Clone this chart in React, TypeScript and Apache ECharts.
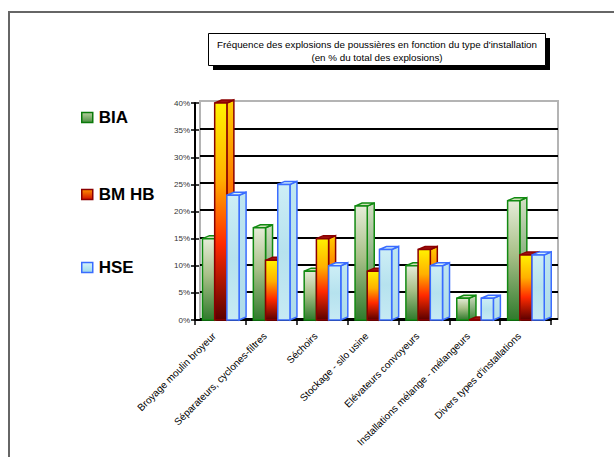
import React, { useEffect, useRef } from "react";
import * as echarts from "echarts";

const categories = [
  "Broyage moulin broyeur",
  "Séparateurs, cyclones-filtres",
  "Séchoirs",
  "Stockage - silo usine",
  "Elévateurs convoyeurs",
  "Installations mélange - mélangeurs",
  "Divers types d'installations",
];
const seriesNames = ["BIA", "BM HB", "HSE"];
const biaValues = [15, 17, 9, 21, 10, 4, 22];
const bmhbValues = [40, 11, 15, 9, 13, 0, 12];
const hseValues = [23, 25, 10, 13, 10, 4, 12];
const titleLines = [
  "Fréquence des explosions de poussières en fonction du type d'installation",
  "(en % du total des explosions)",
];
const yMin = 0;
const yMax = 40;
const yStep = 5;

const FONT = "'Liberation Sans', Arial, sans-serif";

const vgrad = (stops: [number, string][]) => ({
  type: "linear",
  x: 0,
  y: 0,
  x2: 0,
  y2: 1,
  colorStops: stops.map(([offset, color]) => ({ offset, color })),
});

const styles = [
  {
    front: vgrad([
      [0, "#e6ecd8"],
      [0.45, "#a8c088"],
      [1, "#2f7a2c"],
    ]),
    side: vgrad([
      [0, "#d4dec4"],
      [1, "#3a8236"],
    ]),
    top: "#cfe0b8",
    border: "#118a11",
  },
  {
    front: vgrad([
      [0, "#fff200"],
      [0.35, "#ffb000"],
      [0.65, "#ff2a00"],
      [1, "#5a0000"],
    ]),
    side: vgrad([
      [0, "#ffd000"],
      [0.5, "#ff6000"],
      [1, "#700000"],
    ]),
    top: "#a01010",
    border: "#8a0000",
  },
  {
    front: vgrad([
      [0, "#cdeef6"],
      [0.5, "#b6e2ee"],
      [1, "#c6eaf4"],
    ]),
    side: vgrad([
      [0, "#bfe6f0"],
      [1, "#aedbe8"],
    ]),
    top: "#d6f2f8",
    border: "#3a6cff",
  },
];

const legendIcon = [
  { color: vgrad([[0, "#b8d0a0"], [1, "#4a9040"]]), borderColor: "#0a7a0a" },
  { color: vgrad([[0, "#ff9000"], [1, "#d01000"]]), borderColor: "#8a0000" },
  { color: vgrad([[0, "#d8f4fa"], [1, "#9cd8ea"]]), borderColor: "#3a6cff" },
];

function make3D(sIdx: number) {
  const st = styles[sIdx];
  return (params: any, api: any) => {
    const i = api.value(0);
    const v = api.value(1);
    const base = api.coord([i, 0]);
    const topP = api.coord([i, v]);
    const bw = api.size([1, 0])[0];
    const w = bw * 0.24;
    const x0 = base[0] - bw / 2 + bw * 0.147 + sIdx * w;
    const dx = 7;
    const dy = 3;
    const yT = topP[1];
    const yB = base[1];
    return {
      type: "group",
      children: [
        {
          type: "polygon",
          shape: {
            points: [
              [x0 + w, yT],
              [x0 + w + dx, yT - dy],
              [x0 + w + dx, yB - dy],
              [x0 + w, yB],
            ],
          },
          style: { fill: st.side, stroke: st.border, lineWidth: 1.5 },
        },
        {
          type: "polygon",
          shape: {
            points: [
              [x0, yT],
              [x0 + dx, yT - dy],
              [x0 + w + dx, yT - dy],
              [x0 + w, yT],
            ],
          },
          style: { fill: st.top, stroke: st.border, lineWidth: 1.5 },
        },
        {
          type: "rect",
          shape: { x: x0, y: yT, width: w, height: Math.max(0, yB - yT) },
          style: { fill: st.front, stroke: st.border, lineWidth: 1.5 },
        },
      ],
    };
  };
}

export default function App() {
  const ref = useRef<HTMLDivElement>(null);
  useEffect(() => {
    if (!ref.current) return;
    document.body.style.margin = "0";
    document.body.style.overflow = "hidden";
    const chart = echarts.init(ref.current, null, { renderer: "svg" });
    const allValues = [biaValues, bmhbValues, hseValues];
    const legendTops = [109, 186, 259];
    const option: any = {
      animation: false,
      backgroundColor: "#ffffff",
      textStyle: { fontFamily: FONT },
      legend: seriesNames.map((name, k) => ({
        orient: "vertical",
        left: 81,
        top: legendTops[k],
        padding: 0,
        itemWidth: 11,
        itemHeight: 10,
        itemGap: 6,
        selectedMode: false,
        textStyle: {
          fontFamily: FONT,
          fontSize: 17,
          fontWeight: "bold",
          color: "#000",
          padding: [0, 0, 0, 1],
        },
        data: [
          {
            name,
            icon: "rect",
            itemStyle: {
              color: legendIcon[k].color,
              borderColor: legendIcon[k].borderColor,
              borderWidth: 1.5,
            },
          },
        ],
      })),
      grid: [
        { left: 195, right: 63, top: 103, bottom: 137, containLabel: false },
        {
          left: 200,
          right: 56,
          top: 101,
          bottom: 138,
          show: true,
          borderColor: "#b4b4b4",
          borderWidth: 2,
          backgroundColor: "transparent",
          z: 0,
        },
      ],
      xAxis: [
        {
          type: "category",
          gridIndex: 0,
          data: categories,
          boundaryGap: true,
          axisLine: { lineStyle: { color: "#000", width: 2 } },
          axisTick: { show: true, length: 5, lineStyle: { color: "#000", width: 1.5 } },
          axisLabel: {
            rotate: 45,
            interval: 0,
            fontSize: 10,
            color: "#000",
            margin: 8,
            padding: [0, 9, 0, 0],
            fontFamily: FONT,
          },
          splitLine: { show: false },
        },
        {
          type: "value",
          gridIndex: 1,
          show: false,
          min: 0,
          max: 1,
          splitLine: { show: false },
        },
      ],
      yAxis: [
        {
          type: "value",
          gridIndex: 0,
          position: "left",
          min: yMin,
          max: yMax,
          interval: yStep,
          axisLine: { show: true, lineStyle: { color: "#000", width: 2 } },
          axisTick: { show: true, length: 4, lineStyle: { color: "#000", width: 1.5 } },
          axisLabel: {
            fontSize: 8,
            color: "#333",
            margin: 5,
            fontFamily: FONT,
            formatter: (v: number) => `${v}%`,
          },
          splitLine: { show: false },
        },
        {
          type: "value",
          gridIndex: 1,
          min: yMin,
          max: yMax,
          interval: yStep,
          axisLine: { show: false },
          axisTick: { show: false },
          axisLabel: { show: false },
          splitLine: {
            show: true,
            showMaxLine: false,
            lineStyle: { color: "#000", width: 2 },
          },
        },
        {
          type: "value",
          gridIndex: 0,
          position: "left",
          offset: 0,
          min: yMin,
          max: yMax,
          interval: yStep,
          axisLine: { show: false },
          axisTick: {
            show: true,
            inside: true,
            length: 4,
            lineStyle: { color: "#000", width: 1.5 },
          },
          axisLabel: { show: false },
          splitLine: { show: false },
        },
      ],
      graphic: [
        {
          type: "line",
          shape: { x1: 8, y1: 12, x2: 614, y2: 12 },
          style: { stroke: "#666", lineWidth: 2 },
          z: 10,
        },
        {
          type: "line",
          shape: { x1: 9, y1: 11, x2: 9, y2: 457 },
          style: { stroke: "#666", lineWidth: 2 },
          z: 10,
        },
        {
          type: "rect",
          shape: { x: 213, y: 38, width: 337, height: 32 },
          style: { fill: "#000" },
          z: 10,
        },
        {
          type: "rect",
          shape: { x: 208.5, y: 33.5, width: 337, height: 32 },
          style: { fill: "#fff", stroke: "#000", lineWidth: 1 },
          z: 11,
        },
        {
          type: "text",
          x: 377,
          y: 44,
          style: {
            text: titleLines[0],
            fontFamily: FONT,
            fontSize: 9.8,
            fill: "#000",
            align: "center",
            verticalAlign: "middle",
          },
          z: 12,
        },
        {
          type: "text",
          x: 377,
          y: 57,
          style: {
            text: titleLines[1],
            fontFamily: FONT,
            fontSize: 9.8,
            fill: "#000",
            align: "center",
            verticalAlign: "middle",
          },
          z: 12,
        },
      ],
      series: seriesNames.map((name, k) => ({
        name,
        type: "custom",
        xAxisIndex: 0,
        yAxisIndex: 0,
        renderItem: make3D(k),
        itemStyle: {
          color: legendIcon[k].color,
          borderColor: legendIcon[k].borderColor,
        },
        encode: { x: 0, y: 1 },
        data: allValues[k].map((v, i) => [i, v]),
        z: 3,
      })),
    };
    chart.setOption(option);
    return () => chart.dispose();
  }, []);
  return <div ref={ref} style={{ width: 614, height: 457 }} />;
}
